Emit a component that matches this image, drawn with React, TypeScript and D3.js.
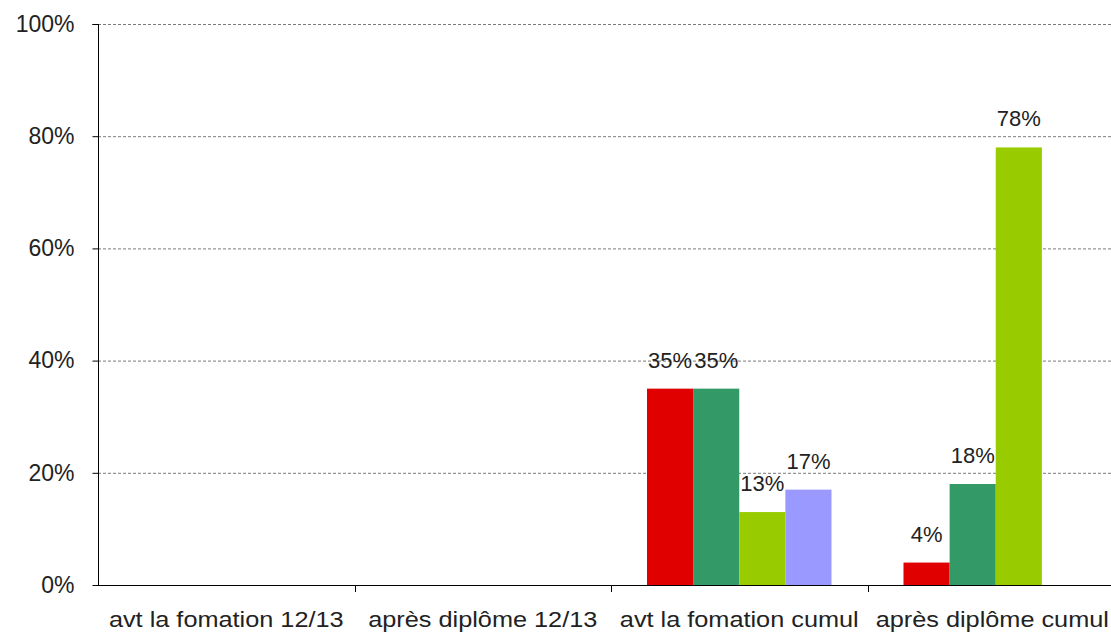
import { useEffect, useRef } from "react";
import * as d3 from "d3";

const categories = [
  "avt la fomation 12/13",
  "après diplôme 12/13",
  "avt la fomation cumul",
  "après diplôme cumul",
];
const seriesKeys = ["s1", "s2", "s3", "s4"];
const seriesColors = ["#E00000", "#339966", "#99CC00", "#9999FF"];
// values in %, null = no bar
const s1 = [null, null, 35, 4];
const s2 = [null, null, 35, 18];
const s3 = [null, null, 13, 78];
const s4 = [null, null, 17, null];
const yTicks = [0, 20, 40, 60, 80, 100];

const W = 1111;
const H = 632;

export default function App() {
  const ref = useRef<SVGSVGElement | null>(null);

  useEffect(() => {
    const svgEl = ref.current;
    if (!svgEl) return;
    const svg = d3.select(svgEl);
    svg.selectAll("*").remove();

    const left = 98;
    const right = 1124;
    const top = 24;
    const bottom = 585;
    const font = "'Liberation Sans', Arial, sans-serif";

    const x = d3.scaleBand<string>().domain(categories).range([left, right]);
    const xs = d3
      .scaleBand<string>()
      .domain(seriesKeys)
      .range([36, x.bandwidth() - 36]);
    const y = d3.scaleLinear().domain([0, 100]).range([bottom, top]);

    // dashed gridlines
    svg
      .append("g")
      .selectAll("line")
      .data(yTicks.filter((t) => t > 0))
      .join("line")
      .attr("x1", left)
      .attr("x2", W)
      .attr("y1", (d) => y(d) + 0.5)
      .attr("y2", (d) => y(d) + 0.5)
      .attr("stroke", "#7a7a7a")
      .attr("stroke-width", 1)
      .attr("stroke-dasharray", "3,2");

    const series = [s1, s2, s3, s4];
    const rows = series.flatMap((vals, si) =>
      vals.map((v, ci) => ({ key: seriesKeys[si], color: seriesColors[si], cat: categories[ci], v }))
    ).filter((d) => d.v != null) as { key: string; color: string; cat: string; v: number }[];

    svg
      .append("g")
      .selectAll("rect")
      .data(rows)
      .join("rect")
      .attr("x", (d) => (x(d.cat) ?? 0) + (xs(d.key) ?? 0))
      .attr("width", xs.bandwidth())
      .attr("y", (d) => y(d.v))
      .attr("height", (d) => y(0) - y(d.v))
      .attr("fill", (d) => d.color);

    svg
      .append("g")
      .selectAll("text")
      .data(rows)
      .join("text")
      .attr("x", (d) => (x(d.cat) ?? 0) + (xs(d.key) ?? 0) + xs.bandwidth() / 2)
      .attr("y", (d) => y(d.v) - 21)
      .attr("text-anchor", "middle")
      .attr("fill", "#222")
      .style("font", `22px ${font}`)
      .text((d) => `${d.v}%`);

    // y axis
    const yAxis = svg
      .append("g")
      .attr("transform", `translate(${left + 0.5},0)`)
      .call(
        d3
          .axisLeft(y)
          .tickValues(yTicks)
          .tickSize(6)
          .tickPadding(18)
          .tickFormat((d) => `${d}%`)
      );
    yAxis.select(".domain").attr("stroke", "#000").attr("d", `M-6,${top + 0.5}H0V${bottom}`);
    yAxis.selectAll(".tick line").attr("stroke", "#000");
    yAxis
      .selectAll(".tick text")
      .attr("fill", "#222")
      .style("font", `23px ${font}`);

    // x axis — labels look horizontally stretched in the source
    const sx = 1.15;
    const xAxis = svg
      .append("g")
      .attr("transform", `translate(0,${bottom + 0.5})`)
      .call(d3.axisBottom(x).tickSize(0).tickPadding(26));
    xAxis.select(".domain").attr("stroke", "#000").attr("d", `M${left},0H${W}`);
    xAxis
      .selectAll<SVGTextElement, string>(".tick text")
      .attr("fill", "#222")
      .style("font", `22px ${font}`)
      .each(function (d) {
        // keep the last label inside the frame
        const w = this.getComputedTextLength() * sx;
        const cx = (x(d) ?? 0) + x.bandwidth() / 2;
        const shift = Math.min(0, W - 2 - (cx + w / 2));
        d3.select(this).attr("transform", `translate(${shift},0) scale(${sx},1)`);
      });
    svg
      .append("g")
      .selectAll("line")
      .data(categories.slice(1))
      .join("line")
      .attr("x1", (d) => Math.round(x(d) ?? 0) + 0.5)
      .attr("x2", (d) => Math.round(x(d) ?? 0) + 0.5)
      .attr("y1", bottom)
      .attr("y2", bottom + 7)
      .attr("stroke", "#000");
  }, []);

  return (
    <svg
      ref={ref}
      width={W}
      height={H}
      style={{ position: "absolute", left: 0, top: 0, background: "#fff" }}
    />
  );
}
